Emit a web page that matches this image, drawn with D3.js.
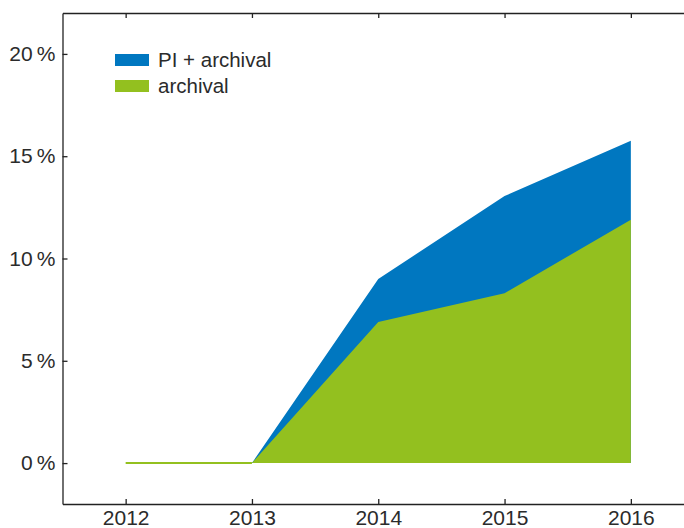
<!doctype html>
<html>
  <head>
    <meta charset="utf-8">
    <title>PI + archival share</title>
    <script src="https://cdn.jsdelivr.net/npm/d3@7"></script>
    <style>
      body { margin: 0; background: #fff; }
      text { font-family: "Liberation Sans", Arial, sans-serif; fill: #2b2b2b; }
    </style>
  </head>
  <body>
    <div id="chart"></div>
  </body>
  <script>
    var years = [2012, 2013, 2014, 2015, 2016];
    var totalPct = [0, 0, 9.0, 13.05, 15.75];      // PI + archival
    var archivalPct = [0, 0, 6.9, 8.3, 11.9];      // archival
    var yTicks = [0, 5, 10, 15, 20];
    var legendLabels = ["PI + archival", "archival"];
    var colours = ["#0077c0", "#93c01f"];

    var width = 684,
      height = 528;

    var svg = d3.select("#chart")
                .append("svg")
                .attr("width", width)
                .attr("height", height);

    var x = d3.scaleLinear().domain([2011.5, 2016.5]).range([62.5, 694]);
    var y = d3.scaleLinear().domain([-2, 22]).range([504, 13]);

    var rows = years.map(function(yr, i) {
      return { year: yr, total: totalPct[i], archival: archivalPct[i] };
    });

    var totalArea = d3.area()
      .x(function(d) { return x(d.year); })
      .y0(y(0))
      .y1(function(d) { return y(d.total); });

    var archivalArea = d3.area()
      .x(function(d) { return x(d.year); })
      .y0(y(0))
      .y1(function(d) { return y(d.archival); });

    var archivalLine = d3.line()
      .x(function(d) { return x(d.year); })
      .y(function(d) { return y(d.archival); });

    svg.append("path")
      .datum(rows)
      .attr("d", totalArea)
      .attr("fill", colours[0]);

    svg.append("path")
      .datum(rows)
      .attr("d", archivalArea)
      .attr("fill", colours[1]);

    svg.append("path")
      .datum(rows.slice(0, 2))
      .attr("d", archivalLine)
      .attr("fill", "none")
      .attr("stroke", colours[1])
      .attr("stroke-width", 2);

    // axes
    var axisBottomG = svg.append("g")
      .attr("transform", "translate(0," + y(-2) + ")")
      .call(d3.axisBottom(x).tickValues(years).tickFormat(d3.format("d"))
        .tickSizeInner(-5).tickSizeOuter(0).tickPadding(6));

    var axisTopG = svg.append("g")
      .attr("transform", "translate(0," + y(22) + ")")
      .call(d3.axisTop(x).tickValues(years).tickFormat("")
        .tickSizeInner(-5).tickSizeOuter(0));

    var axisLeftG = svg.append("g")
      .attr("transform", "translate(" + x(2011.5) + ",0)")
      .call(d3.axisLeft(y).tickValues(yTicks)
        .tickFormat(function(d) { return d + "\u2009%"; })
        .tickSizeInner(-5).tickSizeOuter(0).tickPadding(7));

    [axisBottomG, axisTopG, axisLeftG].forEach(function(g) {
      g.select(".domain").attr("stroke", "#222").attr("stroke-width", 1.3);
      g.selectAll(".tick line").attr("stroke", "#222").attr("stroke-width", 1.3);
      g.selectAll(".tick text")
        .style("font-family", "'Liberation Sans', Arial, sans-serif")
        .style("font-size", "21px")
        .attr("fill", "#2b2b2b");
    });

    // legend
    var legend = svg.append("g").attr("transform", "translate(115,54)");
    legendLabels.forEach(function(label, i) {
      legend.append("rect")
        .attr("x", 0)
        .attr("y", i * 26)
        .attr("width", 34)
        .attr("height", 12)
        .attr("fill", colours[i]);
      legend.append("text")
        .attr("x", 43)
        .attr("y", i * 26 + 13)
        .style("font-size", "20.5px")
        .text(label);
    });
  </script>
</html>
